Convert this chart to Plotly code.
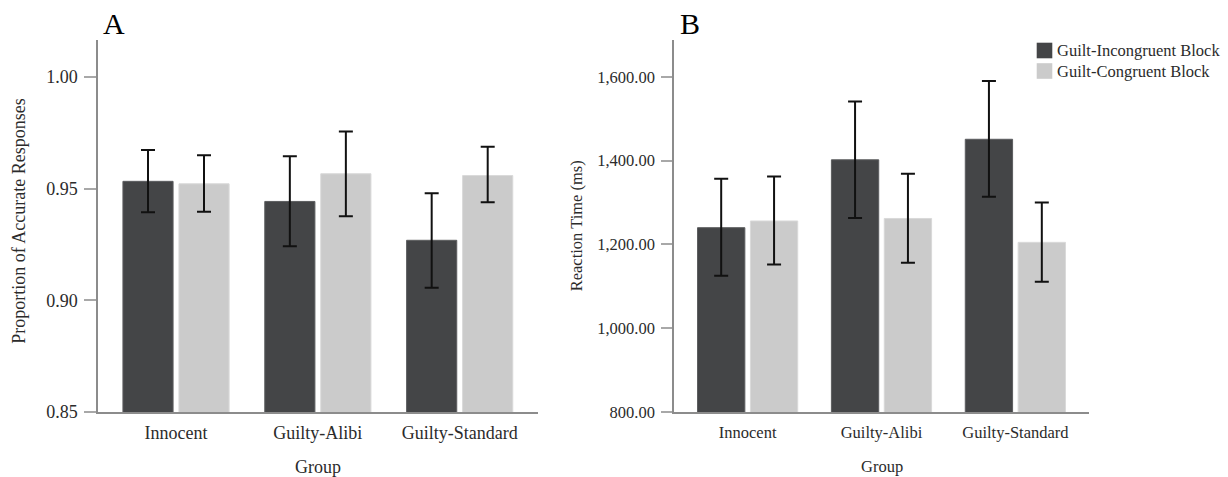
import plotly.graph_objects as go

# ---------------- data ----------------
groups = ["Innocent", "Guilty-Alibi", "Guilty-Standard"]
series_names = ["Guilt-Incongruent Block", "Guilt-Congruent Block"]

# Panel A: proportion of accurate responses
acc_incong = [0.9533, 0.9443, 0.9269]
acc_incong_lo = [0.9395, 0.9242, 0.9056]
acc_incong_hi = [0.9673, 0.9645, 0.9480]
acc_cong = [0.9522, 0.9567, 0.9559]
acc_cong_lo = [0.9397, 0.9377, 0.9439]
acc_cong_hi = [0.9650, 0.9756, 0.9688]

# Panel B: reaction time (ms)
rt_incong = [1240, 1402, 1451]
rt_incong_lo = [1125, 1263, 1314]
rt_incong_hi = [1357, 1541, 1590]
rt_cong = [1256, 1262, 1205]
rt_cong_lo = [1152, 1156, 1111]
rt_cong_hi = [1362, 1369, 1300]

acc_ticks = [0.85, 0.90, 0.95, 1.00]
rt_ticks = [800, 1000, 1200, 1400, 1600]

# ---------------- style ----------------
DARK = "#444547"
LIGHT = "#cbcbcb"
FONT = "Liberation Serif"
TXT = "#2b2b2b"
AXC = "#8c8c8c"
W, H = 1228, 477


def px_x(p):
    return p / W


def px_y(p):
    return 1 - p / H


fig = go.Figure()


def add_bars(vals, lo, hi, color, edge, name, xa, ya):
    fig.add_trace(go.Bar(
        x=groups, y=vals, name=name, xaxis=xa, yaxis=ya,
        marker=dict(color=color, line=dict(color=edge, width=1)),
        error_y=dict(type="data", symmetric=False,
                     array=[h - v for h, v in zip(hi, vals)],
                     arrayminus=[v - l for v, l in zip(vals, lo)],
                     color="#111111", thickness=2, width=7),
        showlegend=False,
    ))


add_bars(acc_incong, acc_incong_lo, acc_incong_hi, DARK, "#5c5d5f", series_names[0], "x", "y")
add_bars(acc_cong, acc_cong_lo, acc_cong_hi, LIGHT, "#d9d9d9", series_names[1], "x", "y")
add_bars(rt_incong, rt_incong_lo, rt_incong_hi, DARK, "#5c5d5f", series_names[0], "x2", "y2")
add_bars(rt_cong, rt_cong_lo, rt_cong_hi, LIGHT, "#d9d9d9", series_names[1], "x2", "y2")

ydom = [px_y(412), px_y(40)]

xcommon = dict(type="category", range=[-0.55, 2.55], showline=True, linecolor=AXC,
               linewidth=1.5, ticks="outside", tickcolor="rgba(0,0,0,0)",
               showgrid=False, zeroline=False, fixedrange=True, automargin=False)
ycommon = dict(showline=True, linecolor=AXC, linewidth=1.5, ticks="outside",
               tickcolor="#a8a8a8", tickwidth=1.5, showgrid=False, zeroline=False,
               ticklabelstandoff=3, automargin=False)

fig.update_layout(
    width=W, height=H, autosize=False,
    margin=dict(l=0, r=0, t=0, b=0, pad=0),
    paper_bgcolor="white", plot_bgcolor="white",
    barmode="group", bargap=0.21, bargroupgap=0.105,
    showlegend=False,
    xaxis=dict(domain=[px_x(98), px_x(537.7)], anchor="y", ticklen=4,
               tickfont=dict(family=FONT, size=18, color=TXT), **xcommon),
    yaxis=dict(domain=ydom, anchor="x", range=[0.85, 1.0166], tickvals=acc_ticks,
               tickformat=".2f", ticklen=12,
               tickfont=dict(family=FONT, size=18, color=TXT), **ycommon),
    xaxis2=dict(domain=[px_x(674), px_x(1089)], anchor="y2", ticklen=4,
                tickfont=dict(family=FONT, size=16.5, color=TXT), **xcommon),
    yaxis2=dict(domain=ydom, anchor="x2", range=[800, 1688], tickvals=rt_ticks,
                tickformat=",.2f", ticklen=11,
                tickfont=dict(family=FONT, size=16.5, color=TXT), **ycommon),
)

ann = []
# axis titles
ann.append(dict(text="Proportion of Accurate Responses", x=px_x(19), y=px_y(221.7),
                textangle=-90, font=dict(family=FONT, size=18, color=TXT)))
ann.append(dict(text="Reaction Time (ms)", x=px_x(576), y=px_y(226.3),
                textangle=-90, font=dict(family=FONT, size=16.5, color=TXT)))
ann.append(dict(text="Group", x=px_x(317.7), y=px_y(466.5),
                font=dict(family=FONT, size=18, color=TXT)))
ann.append(dict(text="Group", x=px_x(881.7), y=px_y(466),
                font=dict(family=FONT, size=16.5, color=TXT)))
# panel letters
ann.append(dict(text="A", x=px_x(102), y=px_y(24), xanchor="left",
                font=dict(family=FONT, size=30, color="black")))
ann.append(dict(text="B", x=px_x(679), y=px_y(24), xanchor="left",
                font=dict(family=FONT, size=30, color="black")))
for a in ann:
    a.update(xref="paper", yref="paper", showarrow=False, borderpad=0)
    a.setdefault("xanchor", "center")
    a.setdefault("yanchor", "middle")

# custom legend
shapes = []
leg_rows = [(50.5, DARK, series_names[0]), (71, LIGHT, series_names[1])]
for yc, col, name in leg_rows:
    shapes.append(dict(type="rect", xref="paper", yref="paper",
                       x0=px_x(1036.7), x1=px_x(1052.3),
                       y0=px_y(yc + 7.8), y1=px_y(yc - 7.8),
                       fillcolor=col, line=dict(width=0)))
    ann.append(dict(text=name, xref="paper", yref="paper", x=px_x(1055), y=px_y(yc),
                    xanchor="left", yanchor="middle", showarrow=False,
                    font=dict(family=FONT, size=16.5, color=TXT)))

fig.update_layout(annotations=ann, shapes=shapes)
fig.write_html("out.html", config={"responsive": False})
